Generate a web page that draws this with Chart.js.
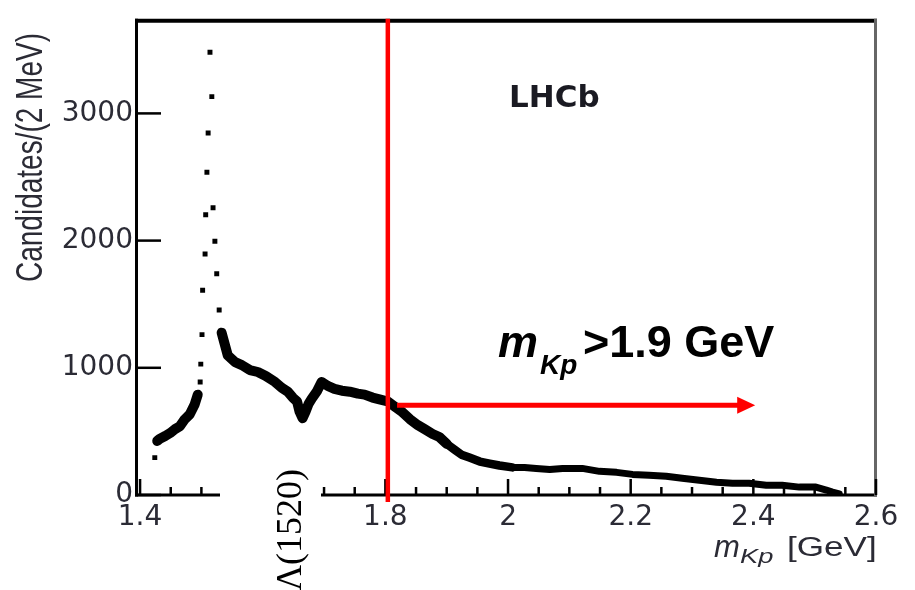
<!DOCTYPE html>
<html>
<head>
<meta charset="utf-8">
<script src="https://cdn.jsdelivr.net/npm/chart.js@4.4.1/dist/chart.umd.min.js"></script>
<style>
    html, body { margin: 0; padding: 0; background: #fff; }
    #wrap { width: 915px; height: 590px; }
</style>
</head>
<body>
<div id="wrap"><canvas id="myChart" width="915" height="590"></canvas></div>
<script>
"use strict"

// dati (m_Kp in GeV, candidati per 2 MeV)
const massKp = [1.424, 1.428, 1.432, 1.441, 1.449, 1.457, 1.465, 1.473, 1.481, 1.489,
    1.494, 1.498, 1.499, 1.501, 1.502, 1.506, 1.507, 1.509, 1.511, 1.514,
    1.517, 1.519, 1.522, 1.525, 1.529, 1.533, 1.543, 1.555, 1.566, 1.579,
    1.592, 1.605, 1.620, 1.631, 1.641, 1.649, 1.656, 1.660, 1.665, 1.670,
    1.675, 1.680, 1.688, 1.696, 1.706, 1.717, 1.729, 1.742, 1.755, 1.766,
    1.779, 1.792, 1.804, 1.815, 1.828, 1.840, 1.853, 1.864, 1.877, 1.888,
    1.900, 1.913, 1.924, 1.937, 1.954, 1.970, 1.986, 2.007, 2.027, 2.046,
    2.068, 2.089, 2.108, 2.121, 2.149, 2.177, 2.203, 2.230, 2.258, 2.284,
    2.312, 2.340, 2.366, 2.393, 2.421, 2.447, 2.475, 2.502, 2.519, 2.529, 2.540];
const candidates = [294, 425, 441, 464, 487, 518, 541, 596, 634, 712,
    789, 889, 1029, 1261, 1609, 1895, 2204, 2537, 2846, 3480,
    3132, 2258, 1995, 1740, 1454, 1276, 1098, 1044, 1021, 982,
    967, 936, 889, 843, 812, 766, 735, 657, 603, 657,
    719, 758, 812, 889, 858, 835, 820, 812, 797, 789,
    766, 750, 735, 696, 650, 596, 549, 518, 480, 456,
    402, 356, 317, 294, 263, 247, 232, 217, 217, 209,
    201, 209, 209, 209, 186, 178, 162, 155, 147, 131,
    116, 101, 93, 93, 77, 77, 62, 62, 39, 23, 8];
const xTicks = [1.4, 1.6, 1.8, 2.0, 2.2, 2.4, 2.6];
const yTicks = [0, 1000, 2000, 3000];
const cutMass = 1.804;
const arrowStart = 1.819;
const arrowEnd = 2.403;
const arrowLevel = 705;

const axisText = "#2b2b35";

// zona del picco disegnata a punti
function sparse(x) {
    return x < 1.426 || (x >= 1.494 && x <= 1.533);
}

const decorazioni = {
    id: "decorazioni",
    beforeDatasetsDraw(chart) {
        const ctx = chart.ctx;
        const a = chart.chartArea;
        const sx = chart.scales.x;
        const sy = chart.scales.y;
        ctx.save();
        // cornice
        ctx.strokeStyle = "#000";
        ctx.lineWidth = 4;
        ctx.beginPath(); ctx.moveTo(a.left - 2, a.top); ctx.lineTo(a.right + 1, a.top); ctx.stroke();
        ctx.lineWidth = 3;
        ctx.beginPath(); ctx.moveTo(a.left - 0.5, a.top - 2); ctx.lineTo(a.left - 0.5, a.bottom + 1.5); ctx.stroke();
        ctx.beginPath(); ctx.moveTo(a.left - 2, a.bottom); ctx.lineTo(a.right + 1, a.bottom); ctx.stroke();
        ctx.strokeStyle = "#666";
        ctx.beginPath(); ctx.moveTo(a.right - 0.5, a.top - 2); ctx.lineTo(a.right - 0.5, a.bottom + 1.5); ctx.stroke();
        // tacche
        ctx.strokeStyle = "#000";
        ctx.lineWidth = 2.5;
        yTicks.forEach(function (v) {
            const py = sy.getPixelForValue(v);
            ctx.beginPath(); ctx.moveTo(a.left, py); ctx.lineTo(a.left + 24, py); ctx.stroke();
        });
        for (let k = 0; k <= 24; k++) {
            const v = 1.4 + k * 0.05;
            const px = sx.getPixelForValue(v);
            const h = (k % 4 === 0) ? 16 : 8;
            ctx.beginPath(); ctx.moveTo(px, a.bottom); ctx.lineTo(px, a.bottom - h); ctx.stroke();
        }
        ctx.restore();
    },
    afterDraw(chart) {
        const ctx = chart.ctx;
        const a = chart.chartArea;
        const sx = chart.scales.x;
        const sy = chart.scales.y;
        ctx.save();

        // linea del taglio e freccia
        const xc = sx.getPixelForValue(cutMass);
        ctx.strokeStyle = "#ff0000";
        ctx.fillStyle = "#ff0000";
        ctx.lineWidth = 4.5;
        ctx.beginPath(); ctx.moveTo(xc, a.top - 2); ctx.lineTo(xc, a.bottom + 7); ctx.stroke();
        const ya = sy.getPixelForValue(arrowLevel);
        const x1 = sx.getPixelForValue(arrowStart);
        const x2 = sx.getPixelForValue(arrowEnd);
        ctx.lineWidth = 5;
        ctx.beginPath(); ctx.moveTo(x1, ya); ctx.lineTo(x2 - 16, ya); ctx.stroke();
        ctx.beginPath();
        ctx.moveTo(x2, ya); ctx.lineTo(x2 - 18, ya - 8.5); ctx.lineTo(x2 - 18, ya + 8.5);
        ctx.closePath(); ctx.fill();

        // etichetta Lambda(1520) con fondo bianco
        ctx.fillStyle = "#fff";
        ctx.fillRect(220, 470, 101, 120);
        ctx.save();
        ctx.translate(301, 591);
        ctx.rotate(-Math.PI / 2);
        ctx.fillStyle = "#000";
        ctx.font = '36px "Liberation Serif"';
        ctx.textAlign = "left";
        ctx.textBaseline = "alphabetic";
        ctx.fillText("\u039B(1520)", 0, 0);
        ctx.restore();

        // LHCb
        ctx.fillStyle = "#1a1a22";
        ctx.font = 'bold 31px "DejaVu Sans"';
        ctx.textAlign = "left";
        ctx.textBaseline = "alphabetic";
        ctx.fillText("LHCb", 509, 107);

        // m_Kp > 1.9 GeV
        ctx.fillStyle = "#000";
        ctx.font = 'italic bold 45px "Liberation Sans"';
        ctx.fillText("m", 498, 357);
        ctx.font = 'italic bold 28px "Liberation Sans"';
        ctx.fillText("Kp", 540, 374);
        ctx.font = 'bold 45px "Liberation Sans"';
        ctx.fillText(">1.9 GeV", 583, 357);

        // titolo asse y
        ctx.fillStyle = axisText;
        ctx.save();
        ctx.translate(42, 282);
        ctx.scale(1.3, 1);
        ctx.rotate(-Math.PI / 2);
        ctx.font = '28px "Liberation Sans"';
        ctx.fillText("Candidates/(2 MeV)", 0, 0);
        ctx.restore();

        // titolo asse x
        ctx.font = 'italic 31px "Liberation Sans"';
        ctx.fillText("m", 714, 557);
        ctx.save();
        ctx.translate(740, 563);
        ctx.scale(1.3, 1);
        ctx.font = 'italic 21px "Liberation Sans"';
        ctx.fillText("Kp", 0, 0);
        ctx.restore();
        ctx.save();
        ctx.translate(787, 556);
        ctx.scale(1.3, 1);
        ctx.font = '27px "Liberation Sans"';
        ctx.fillText("[GeV]", 0, 0);
        ctx.restore();

        ctx.restore();
    }
};

const punti = massKp.map(function (m, i) { return { x: m, y: candidates[i] }; });

new Chart(document.getElementById("myChart"), {
    type: "scatter",
    data: {
        datasets: [{
            data: punti,
            showLine: true,
            borderColor: "#000",
            backgroundColor: "#000",
            borderWidth: 7,
            borderJoinStyle: "round",
            borderCapStyle: "round",
            pointStyle: "rect",
            pointRadius: function (c) { return sparse(c.raw.x) ? 3.5 : 0; },
            pointBorderWidth: 0,
            segment: {
                borderColor: function (c) {
                    const x0 = c.p0.parsed.x, x1 = c.p1.parsed.x;
                    if (x1 <= 1.428) return "rgba(0,0,0,0)";
                    if (x0 >= 1.494 && x1 <= 1.533) return "rgba(0,0,0,0)";
                    return "#000";
                },
                borderWidth: function (c) {
                    const x0 = c.p0.parsed.x;
                    if (x0 < 1.90) return 10;
                    if (x0 < 2.00) return 8.5;
                    return 7;
                }
            }
        }]
    },
    options: {
        responsive: false,
        animation: false,
        devicePixelRatio: 1,
        layout: { padding: { left: 0, right: 39, top: 13, bottom: 0 } },
        plugins: { legend: { display: false }, tooltip: { enabled: false } },
        scales: {
            x: {
                type: "linear",
                min: 1.395,
                max: 2.6,
                grid: { display: false, drawTicks: false },
                border: { display: false },
                afterBuildTicks: function (s) { s.ticks = xTicks.map(function (v) { return { value: v }; }); },
                afterFit: function (s) { s.height = 95; },
                ticks: {
                    autoSkip: false,
                    maxRotation: 0,
                    padding: 6,
                    color: axisText,
                    font: { family: "DejaVu Sans", size: 28 },
                    callback: function (v) { return String(+v.toFixed(1)); }
                }
            },
            y: {
                min: 0,
                max: 3728,
                grid: { display: false, drawTicks: false },
                border: { display: false },
                afterBuildTicks: function (s) { s.ticks = yTicks.map(function (v) { return { value: v }; }); },
                afterFit: function (s) { s.width = 137; },
                ticks: {
                    padding: 4,
                    color: axisText,
                    font: { family: "DejaVu Sans", size: 28 },
                    callback: function (v) { return String(v); }
                }
            }
        }
    },
    plugins: [decorazioni]
});
</script>
</body>
</html>
